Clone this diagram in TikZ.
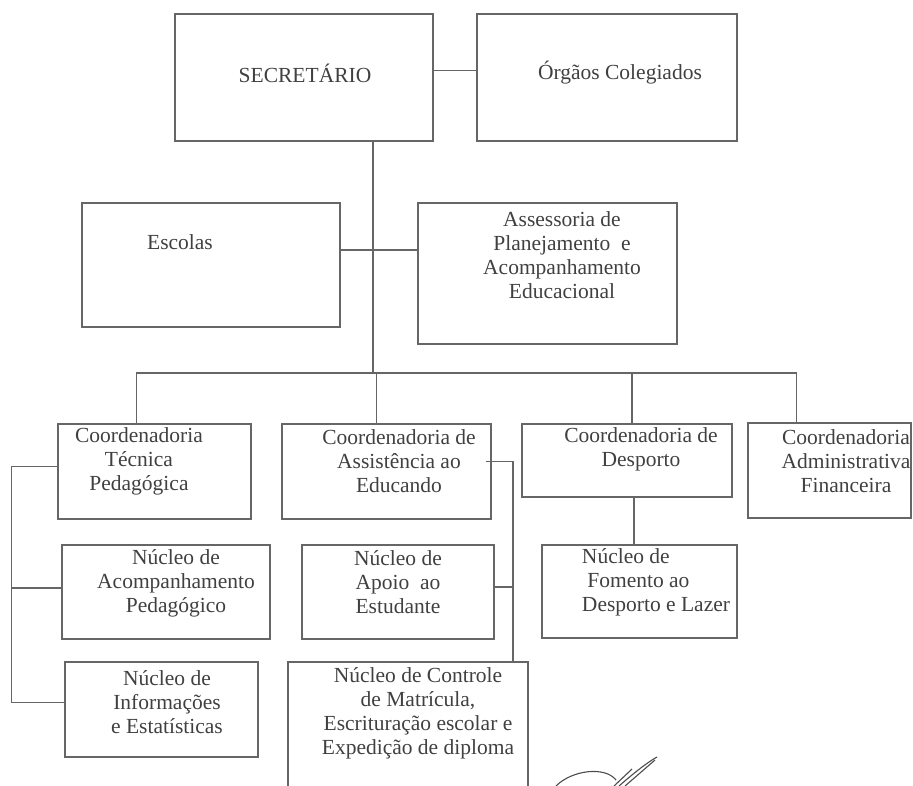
\documentclass[tikz,border=0pt]{standalone}
\usepackage{fontspec}
\setmainfont{Liberation Serif}
\usetikzlibrary{positioning,fit}

\begin{document}
\begin{tikzpicture}[x=1pt,y=-1pt,line width=1.4pt,color=black!60,
 box/.style={draw,inner sep=0pt},
 txt/.style={text=black!75,align=center,inner sep=0pt,
  font=\fontsize{21.5}{24}\selectfont}]

  \useasboundingbox (0,0) rectangle (913,786);
  \clip (0,0) rectangle (913,786);

  % boxes
  \node[box,fit={(175,14) (433,141)}] (sec) {};
  \node[box,fit={(477,14) (737,141)}] (org) {};
  \node[box,fit={(82,203) (340,327)}] (esc) {};
  \node[box,fit={(418,203) (677,344)}] (apae) {};
  \node[box,fit={(58,424) (251,519)}] (ctp) {};
  \node[box,fit={(282,424) (491,519)}] (cae) {};
  \node[box,fit={(522,424) (732,497)}] (cd) {};
  \node[box,fit={(748,423) (911,518)}] (caf) {};
  \node[box,fit={(62,545) (270,639)}] (nap) {};
  \node[box,fit={(302,545) (494,639)}] (nae) {};
  \node[box,fit={(542,545) (737,638)}] (nfd) {};
  \node[box,fit={(65,662) (258,757)}] (nie) {};
  \node[box,fit={(288,662) (528,800)}] (ncm) {};

  % texts
  \node[txt] (sec-t) at (305,73) {SECRETÁRIO};
  \node[txt] (org-t) at (620,73) {Órgãos Colegiados};
  \node[txt] (esc-t) at (180,242) {Escolas};
  \node[txt] (apae-t) at (562,255) {Assessoria de\\Planejamento\ \ e\\Acompanhamento\\Educacional};
  \node[txt] (ctp-t) at (139,461) {Coordenadoria\\Técnica\\Pedagógica};
  \node[txt] (cae-t) at (399,461) {Coordenadoria de\\Assistência ao\\Educando};
  \node[txt] (cd-t) at (641,449) {Coordenadoria de\\Desporto};
  \node[txt] (caf-t) at (846,461) {Coordenadoria\\Administrativa\\Financeira};
  \node[txt] (nap-t) at (176,583) {Núcleo de\\Acompanhamento\\Pedagógico};
  \node[txt] (nae-t) at (398,582) {Núcleo de\\Apoio\ \ ao\\Estudante};
  \node[txt,align=left] (nfd-t) at (656,582) {Núcleo de\\\ Fomento ao\\Desporto e Lazer};
  \node[txt] (nie-t) at (167,702) {Núcleo de\\Informações\\e Estatísticas};
  \node[txt] (ncm-t) at (418,713) {Núcleo de Controle\\de Matrícula,\\Escrituração escolar e\\Expedição de diploma};

  % connectors
  \coordinate (bar) at (373,373);
  \draw ([yshift=7pt]sec.east) -- ([yshift=7pt]sec.east -| org.west);
  \draw (sec.south -| bar) -- (bar);
  \draw ([yshift=15pt]esc.east) -- ([yshift=15pt]esc.east -| apae.west);
  \draw ([xshift=-18pt]ctp.north) -- ([xshift=-18pt]ctp.north |- bar)
   -| ([xshift=-33pt]caf.north);
  \draw ([xshift=-10pt]cae.north) -- ([xshift=-10pt]cae.north |- bar);
  \draw ([xshift=5pt]cd.north) -- ([xshift=5pt]cd.north |- bar);
  \draw ([xshift=7pt]cd.south) -- ([xshift=7pt]cd.south |- nfd.north);

  \draw ([yshift=5pt]ctp.west) -- ++(-46,0) |- ([yshift=7pt]nie.west);
  \draw ([yshift=4pt]nap.west) -- ++(-50,0);
  \draw ([xshift=-6pt,yshift=10pt]cae.east) -| ([xshift=105pt]ncm.north);
  \draw ([yshift=5pt]nae.east) -- ++(19,0);

  % signature
  \draw[line width=1.1pt,color=black!70] (556,786)
   .. controls (572,770) and (605,766) .. (616,780);
  \draw[line width=1.1pt,color=black!70] (614,786) -- (632,769);
  \draw[line width=1.1pt,color=black!70] (619,786)
   .. controls (635,772) and (648,762) .. (657,757);
  \draw[line width=1.1pt,color=black!70] (625,786) -- (655,760);

\end{tikzpicture}
\end{document}
